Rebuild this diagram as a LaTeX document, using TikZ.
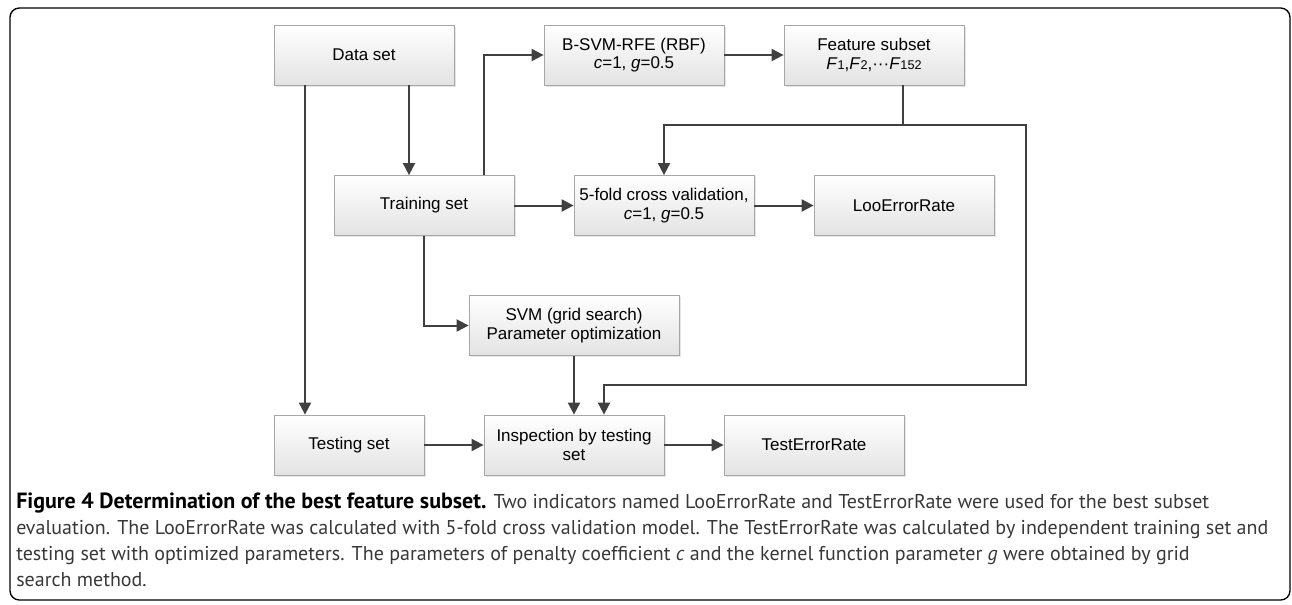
\documentclass[tikz,border=0pt]{standalone}
\usepackage{fontspec}
\setsansfont{Liberation Sans}
\newfontfamily\capfont{PT Sans}
\usetikzlibrary{arrows.meta,calc,shadows}
\newcommand{\smallidx}[1]{{\fontsize{9.5}{9.5}\selectfont #1}}
\tikzset{
  box/.style={draw=black!35, line width=0.6pt, top color=white, bottom color=black!11,
    minimum width=135pt, minimum height=45pt, align=center, inner sep=2pt,
    font=\sffamily\fontsize{12.75}{14}\selectfont,
    drop shadow={shadow xshift=1.2pt, shadow yshift=-1.2pt, opacity=0.2}},
  arw/.style={draw=black!75, line width=1.5pt, -{Triangle[length=9pt,width=9pt]}},
  conn/.style={draw=black!75, line width=1.5pt}
}
\begin{document}
\begin{tikzpicture}[x=0.75pt,y=-0.75pt]
  \useasboundingbox (0,0) rectangle (1292,604);
  % Frame
  \draw[line width=1pt, rounded corners=7pt] (10,8) rectangle (1290,600);
  % Boxes
  \node[box] (data) at (364,55) {Data set};
  \node[box] (bsvm) at (634,55) {B-SVM-RFE (RBF)\\ \textit{c}=1, \textit{g}=0.5};
  \node[box] (feat) at (874,55) {Feature subset\\ \textit{F}\smallidx{1},\textit{F}\smallidx{2},···\textit{F}\smallidx{152}};
  \node[box] (train) at (424,205.5) {Training set};
  \node[box] (cv) at (664,205.5) {5-fold cross validation,\\ \textit{c}=1, \textit{g}=0.5};
  \node[box] (loo) at (904,205.5) {LooErrorRate};
  \node[box, minimum width=157.5pt] (svm) at (574,325.5) {SVM (grid search)\\ Parameter optimization};
  \node[box, minimum width=112.5pt] (test) at (349,445) {Testing set};
  \node[box] (insp) at (574,445) {Inspection by testing\\ set};
  \node[box] (terr) at (814,445) {TestErrorRate};
  % Straight arrows
  \foreach \a/\b in {bsvm/feat, train/cv, cv/loo, test/insp, insp/terr, svm/insp} {
    \draw[arw] (\a) -- (\b);
  }
  % Arrows from data set
  \draw[arw] ($(data.south)+(45,0)$) coordinate (d1) -- (d1 |- train.north);
  \draw[arw] ($(data.south)+(-59,0)$) coordinate (d2) -- (d2 |- test.north);
  % Arrows from training set
  \draw[arw] ($(train.north)+(60,0)$) |- (bsvm.west);
  \draw[arw] (train.south) |- (svm.west);
  % Feature subset back to validation and inspection
  \coordinate (j1) at ($(feat.south)+(29,40)$);
  \draw[conn] (feat.south -| j1) -- (j1);
  \draw[arw] (j1) -| (cv.north);
  \draw[arw] (j1) -| (1026,385) -| ($(insp.north)+(30,0)$);
  % Caption
  \node[anchor=north west, align=left, inner sep=0, text=black!78,
    font=\capfont\fontsize{15}{19.5}\selectfont] (caption) at (16,493)
    {{\fontsize{16.5}{19.5}\selectfont\bfseries\color{black}Figure 4 Determination of the best feature subset.} Two indicators named LooErrorRate and TestErrorRate were used for the best subset\\
     evaluation. The LooErrorRate was calculated with 5-fold cross validation model. The TestErrorRate was calculated by independent training set and\\
     testing set with optimized parameters. The parameters of penalty coefficient \textit{c} and the kernel function parameter \textit{g} were obtained by grid\\
     search method.};
\end{tikzpicture}
\end{document}
